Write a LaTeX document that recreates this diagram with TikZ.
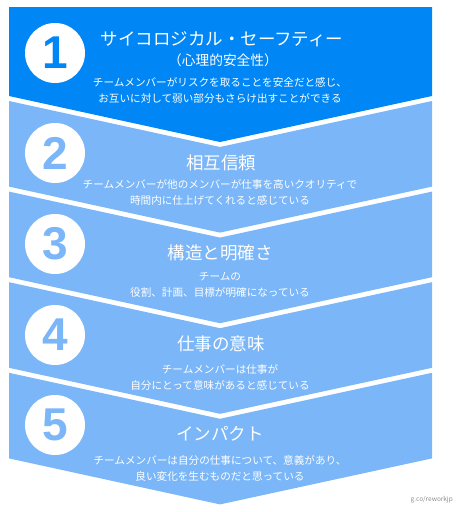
\documentclass[tikz,border=0pt]{standalone}
\usepackage{fontspec}
\setmainfont{Noto Sans CJK JP}
\newfontfamily\numfont{Liberation Sans}
\usetikzlibrary{positioning}
\definecolor{stepdark}{RGB}{0,134,245}
\definecolor{steplight}{RGB}{122,182,248}
\definecolor{credgray}{RGB}{140,140,140}
\tikzset{
numcircle/.style={
  circle,
  fill=white,
  minimum size=60pt,
  inner sep=0pt,
  text=#1,
  font=\numfont\bfseries\fontsize{46}{46}\selectfont
  },
headline/.style={
  text=white,
  inner sep=0pt,
  font=\fontsize{17.5}{21}\selectfont
  },
subline/.style={
  text=white,
  inner sep=0pt,
  font=\fontsize{13.7}{16}\selectfont
  },
blurb/.style={
  text=white,
  inner sep=0pt,
  align=center,
  font=\fontsize{10.6}{16}\selectfont
  }
}

\begin{document}
\begin{tikzpicture}[x=1pt,y=-1pt]
\useasboundingbox (0,0) rectangle (458,512);

% chevrons
\fill[stepdark] (9,7) -- (432,7) -- (432,96) -- (220,142) -- (9,96) -- cycle;
\foreach \i in {2,...,5}{
  \pgfmathsetmacro\yb{96+90.6*(\i-1)}
  \pgfmathsetmacro\yt{96+90.6*(\i-2)+5}
  \fill[steplight] (9,\yt) -- (220,\yt+46) -- (432,\yt) -- (432,\yb)
    -- (220,\yb+46) -- (9,\yb) -- cycle;
}

% numbers
\node[numcircle=stepdark] (num1) at (55,53) {1};
\node[numcircle=steplight] (num2) at (55,153) {2};
\node[numcircle=steplight] (num3) at (55,244) {3};
\node[numcircle=steplight] (num4) at (55,335) {4};
\node[numcircle=steplight] (num5) at (55,425) {5};

% step 1
\node[headline] (head1) at (222,39) {サイコロジカル・セーフティー};
\node[subline] (sub1) at (223,60) {（心理的安全性）};
\node[blurb] (text1) at (220,90.5)
  {チームメンバーがリスクを取ることを安全だと感じ、\\お互いに対して弱い部分もさらけ出すことができる};

% step 2
\node[headline] (head2) at (221,163) {相互信頼};
\node[blurb] (text2) at (220,192.5)
  {チームメンバーが他のメンバーが仕事を高いクオリティで\\時間内に仕上げてくれると感じている};

% step 3
\node[headline] (head3) at (220,253) {構造と明確さ};
\node[blurb] (text3) at (220,284.5)
  {チームの\\役割、計画、目標が明確になっている};

% step 4
\node[headline] (head4) at (221,344) {仕事の意味};
\node[blurb] (text4) at (220,377)
  {チームメンバーは仕事が\\自分にとって意味があると感じている};

% step 5
\node[headline] (head5) at (220,434) {インパクト};
\node[blurb] (text5) at (220,468.5)
  {チームメンバーは自分の仕事について、意義があり、\\良い変化を生むものだと思っている};

\node[anchor=east, text=credgray, inner sep=0pt,
  font=\fontsize{6.5}{8}\selectfont] (credit) at (453,500) {g.co/reworkjp};
\end{tikzpicture}
\end{document}
